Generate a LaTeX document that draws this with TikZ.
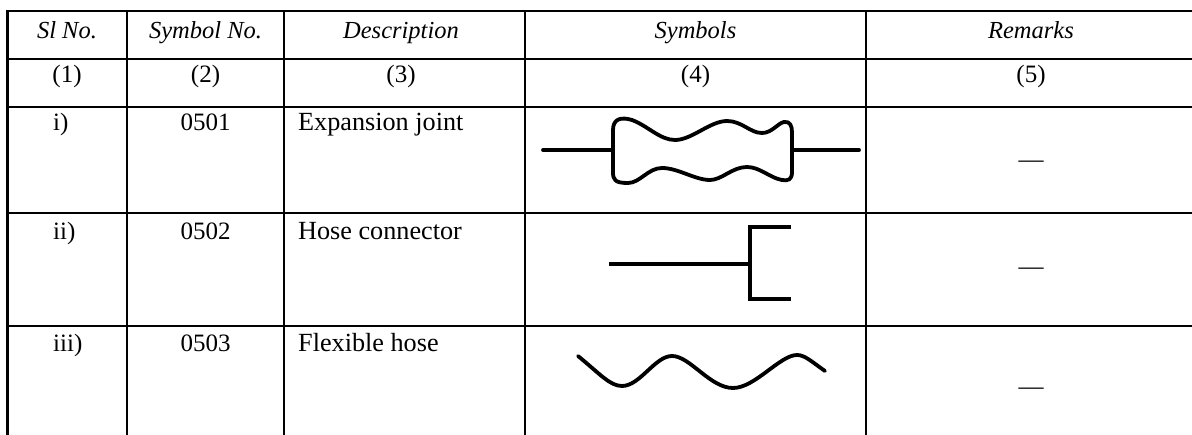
\documentclass[tikz,border=0pt]{standalone}
\usepackage{fontspec}
\setmainfont{Liberation Serif}
\begin{document}
\begin{tikzpicture}[x=1pt,y=-1pt,
  gridline/.style={line width=2.6pt, line cap=rect},
  sym/.style={line width=3.8pt, line join=round, line cap=round},
  txt/.style={anchor=base, inner sep=0pt, font=\fontsize{25}{29}\selectfont},
  hdr/.style={txt, font=\fontsize{24.5}{29}\selectfont\itshape},
  ltxt/.style={txt, anchor=base west},
  dtxt/.style={txt, anchor=base west, font=\fontsize{26.2}{30}\selectfont}]
\useasboundingbox (0,0) rectangle (1192,435);
\begin{scope}
\clip (0,0) rectangle (1192,435);
% horizontal rules
\foreach \yy in {11,59,107,213,326}
  \draw[gridline] (7.5,\yy) -- (1215,\yy);
% vertical rules
\foreach \xx in {7.5,127,284,525,866}
  \draw[gridline] (\xx,11) -- (\xx,445);
\end{scope}
% header
\node[hdr] (h1) at (67,38.5) {Sl No.};
\node[hdr] (h2) at (205.5,38.5) {Symbol No.};
\node[hdr] (h3) at (401,38.5) {Description};
\node[hdr] (h4) at (695.5,38.5) {Symbols};
\node[hdr] (h5) at (1031,38.5) {Remarks};
% numbering row
\node[txt] (n1) at (67,83) {(1)};
\node[txt] (n2) at (205.5,83) {(2)};
\node[txt] (n3) at (401,83) {(3)};
\node[txt] (n4) at (695.5,83) {(4)};
\node[txt] (n5) at (1031,83) {(5)};
% row i
\node[ltxt] (r1a) at (53,131) {i)};
\node[txt] (r1b) at (205.5,131) {0501};
\node[dtxt] (r1c) at (298,131) {Expansion joint};
\node[txt] (r1e) at (1031,167.5) {—};
% row ii
\node[ltxt] (r2a) at (53,240) {ii)};
\node[txt] (r2b) at (205.5,240) {0502};
\node[dtxt] (r2c) at (298,240) {Hose connector};
\node[txt] (r2e) at (1031,275) {—};
% row iii
\node[ltxt] (r3a) at (53,352) {iii)};
\node[txt] (r3b) at (205.5,352) {0503};
\node[dtxt] (r3c) at (298,352) {Flexible hose};
\node[txt] (r3e) at (1031,395) {—};
% symbol: expansion joint
\draw[sym] (543,150) -- (613,150);
\draw[sym] (792,150) -- (859,150);
\draw[sym] (613,150) -- (613,130)
  .. controls (613,118) and (622,117) .. (632,120)
  .. controls (648,126) and (660,140) .. (675,140)
  .. controls (692,140) and (710,121) .. (727,121)
  .. controls (742,121) and (750,133) .. (762,133)
  .. controls (772,133) and (778,123) .. (784,122)
  .. controls (790,121) and (792,126) .. (792,132)
  -- (792,172)
  .. controls (792,180) and (788,181) .. (782,180)
  .. controls (770,178) and (760,167) .. (747,167)
  .. controls (732,167) and (722,180) .. (710,180)
  .. controls (695,180) and (678,168) .. (662,168)
  .. controls (648,168) and (640,183) .. (628,183)
  .. controls (615,183) and (613,180) .. (613,172)
  -- cycle;
% symbol: hose connector
\draw[sym, line cap=butt] (609,264) -- (750,264);
\draw[sym, line join=miter, line cap=butt] (791,227) -- (750,227) -- (750,299) -- (791,299);
% symbol: flexible hose
\draw[sym] (578,356)
  .. controls (600,374) and (610,386) .. (622,386)
  .. controls (640,386) and (655,356) .. (672,356)
  .. controls (690,356) and (710,388) .. (733,388)
  .. controls (755,388) and (780,355) .. (797,355)
  .. controls (805,355) and (812,362) .. (825,371);
\end{tikzpicture}
\end{document}
